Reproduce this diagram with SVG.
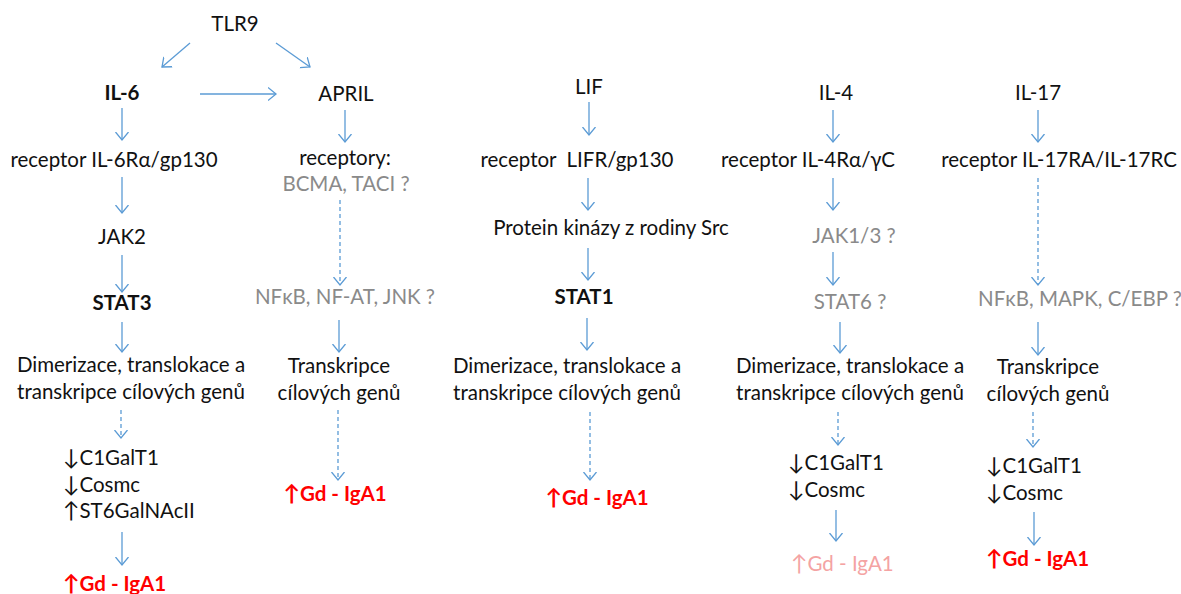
<svg xmlns="http://www.w3.org/2000/svg" width="1181" height="594" viewBox="0 0 1181 594">
  <style>
    text { font-family: Lato, "Open Sans", "Liberation Sans", sans-serif; font-size: 20.5px; fill: #111; }
    .c { text-anchor: middle; }
    .b { font-weight: bold; }
    .g { fill: #8a8a8a; }
    .r { fill: #ff0000; font-weight: bold; }
    .p { fill: #f4a3a3; }
    .ar { font-size: 22px; }
    .ln { stroke: #5b9bd5; stroke-width: 1.3; fill: none; marker-end: url(#arr); }
    .d { stroke-dasharray: 4 3; }
  </style>
  <defs>
    <marker id="arr" markerUnits="userSpaceOnUse" markerWidth="16" markerHeight="16" refX="8" refY="8" orient="auto">
      <path d="M0,1.5 L8,8 L0,14.5" fill="none" stroke="#5b9bd5" stroke-width="1.3"/>
    </marker>
  </defs>
  <rect width="1181" height="594" fill="#fff"/>

  <g id="connectors">
    <!-- TLR9 / IL-6 / APRIL -->
    <line class="ln" x1="190" y1="43" x2="162" y2="67"/>
    <line class="ln" x1="276" y1="43" x2="310" y2="67"/>
    <line class="ln" x1="200" y1="94" x2="276" y2="94"/>
    <!-- IL-6 column -->
    <line class="ln" x1="122" y1="108" x2="122" y2="140"/>
    <line class="ln" x1="122" y1="177" x2="122" y2="213"/>
    <line class="ln" x1="122" y1="255" x2="122" y2="292"/>
    <line class="ln" x1="122" y1="322" x2="122" y2="352"/>
    <line class="ln d" x1="121" y1="410" x2="121" y2="438"/>
    <line class="ln" x1="122" y1="532" x2="122" y2="565"/>
    <!-- APRIL column -->
    <line class="ln" x1="345" y1="110" x2="345" y2="142"/>
    <line class="ln d" x1="340" y1="200" x2="340" y2="285"/>
    <line class="ln" x1="339" y1="320" x2="339" y2="352"/>
    <line class="ln d" x1="338" y1="410" x2="338" y2="480"/>
    <!-- LIF column -->
    <line class="ln" x1="589" y1="102" x2="589" y2="135"/>
    <line class="ln" x1="588" y1="178" x2="588" y2="210"/>
    <line class="ln" x1="588" y1="248" x2="588" y2="280"/>
    <line class="ln" x1="587" y1="318" x2="587" y2="350"/>
    <line class="ln d" x1="590" y1="412" x2="590" y2="480"/>
    <!-- IL-4 column -->
    <line class="ln" x1="833" y1="110" x2="833" y2="142"/>
    <line class="ln" x1="833" y1="178" x2="833" y2="210"/>
    <line class="ln" x1="833" y1="252" x2="833" y2="285"/>
    <line class="ln" x1="840" y1="322" x2="840" y2="353"/>
    <line class="ln d" x1="838" y1="412" x2="838" y2="445"/>
    <line class="ln" x1="836" y1="510" x2="836" y2="541"/>
    <!-- IL-17 column -->
    <line class="ln" x1="1038" y1="110" x2="1038" y2="142"/>
    <line class="ln d" x1="1038" y1="178" x2="1038" y2="285"/>
    <line class="ln" x1="1038" y1="322" x2="1038" y2="355"/>
    <line class="ln d" x1="1033" y1="412" x2="1033" y2="447"/>
    <line class="ln" x1="1034" y1="512" x2="1034" y2="545"/>
  </g>

  <g id="tlr9"><text class="c" x="235" y="31">TLR9</text></g>

  <g id="il6-path">
    <text class="c b" x="122" y="100">IL-6</text>
    <text class="c" x="114" y="167">receptor IL-6Rα/gp130</text>
    <text class="c" x="122" y="244">JAK2</text>
    <text class="c b" x="122" y="310">STAT3</text>
    <text class="c" x="131" y="372">Dimerizace, translokace a</text>
    <text class="c" x="131" y="399">transkripce cílových genů</text>
    <text x="63" y="465"><tspan class="ar">↓</tspan>C1GalT1</text>
    <text x="63" y="492"><tspan class="ar">↓</tspan>Cosmc</text>
    <text x="63" y="518"><tspan class="ar">↑</tspan>ST6GalNAcII</text>
    <text class="r" x="63" y="591"><tspan class="ar">↑</tspan>Gd - IgA1</text>
  </g>

  <g id="april-path">
    <text class="c" x="346" y="101">APRIL</text>
    <text class="c" x="345" y="165">receptory:</text>
    <text class="c g" x="346" y="191">BCMA, TACI ?</text>
    <text class="c g" x="345" y="304">NFκB, NF-AT, JNK ?</text>
    <text class="c" x="339" y="373">Transkripce</text>
    <text class="c" x="339" y="400">cílových genů</text>
    <text class="c r" x="335" y="501"><tspan class="ar">↑</tspan>Gd - IgA1</text>
  </g>

  <g id="lif-path">
    <text class="c" x="589" y="94">LIF</text>
    <text class="c" x="577" y="167">receptor &#160;LIFR/gp130</text>
    <text class="c" x="611" y="235">Protein kinázy z rodiny Src</text>
    <text class="c b" x="584" y="304">STAT1</text>
    <text class="c" x="567" y="373">Dimerizace, translokace a</text>
    <text class="c" x="567" y="400">transkripce cílových genů</text>
    <text class="c r" x="597" y="505"><tspan class="ar">↑</tspan>Gd - IgA1</text>
  </g>

  <g id="il4-path">
    <text class="c" x="836" y="100">IL-4</text>
    <text class="c" x="808" y="167">receptor IL-4Rα/γC</text>
    <text class="c g" x="854" y="243">JAK1/3 ?</text>
    <text class="c g" x="850" y="309">STAT6 ?</text>
    <text class="c" x="850" y="373">Dimerizace, translokace a</text>
    <text class="c" x="850" y="400">transkripce cílových genů</text>
    <text x="788" y="470"><tspan class="ar">↓</tspan>C1GalT1</text>
    <text x="788" y="497"><tspan class="ar">↓</tspan>Cosmc</text>
    <text class="p" x="791" y="571"><tspan class="ar">↑</tspan>Gd - IgA1</text>
  </g>

  <g id="il17-path">
    <text class="c" x="1038" y="100">IL-17</text>
    <text class="c" x="1059" y="167">receptor IL-17RA/IL-17RC</text>
    <text class="c g" x="1080" y="306">NFκB, MAPK, C/EBP ?</text>
    <text class="c" x="1048" y="374">Transkripce</text>
    <text class="c" x="1048" y="401">cílových genů</text>
    <text x="986" y="473"><tspan class="ar">↓</tspan>C1GalT1</text>
    <text x="986" y="500"><tspan class="ar">↓</tspan>Cosmc</text>
    <text class="r" x="986" y="566"><tspan class="ar">↑</tspan>Gd - IgA1</text>
  </g>
</svg>
